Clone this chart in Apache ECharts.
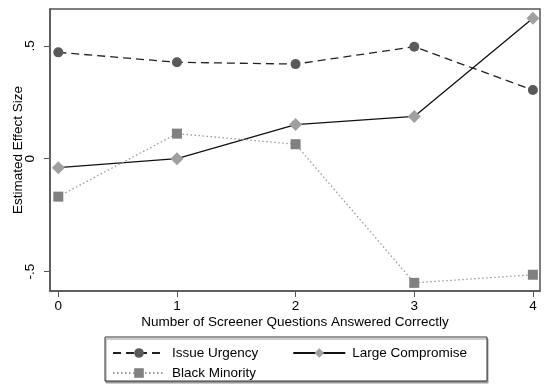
<!DOCTYPE html>
<html>
<head>
<meta charset="utf-8">
<script src="https://cdn.jsdelivr.net/npm/echarts@6/dist/echarts.min.js"></script>
<style>
  html, body { margin: 0; padding: 0; background: #fff; }
  #chart { width: 545px; height: 384px; }
</style>
</head>
<body>
<div id="chart"></div>
<script>
var xValues = [0, 1, 2, 3, 4];
var issueUrgency = [0.471, 0.427, 0.419, 0.496, 0.304];
var largeCompromise = [-0.04, 0.0, 0.151, 0.187, 0.622];
var blackMinority = [-0.168, 0.111, 0.064, -0.55, -0.514];
var yTicks = [-0.5, 0, 0.5];
var yTickLabels = ["-.5", "0", ".5"];

function pairs(ys) {
  return xValues.map(function (x, i) {
    return [x, ys[i]];
  });
}

var font = "Liberation Sans";
var fs = 13.5;
var chart = echarts.init(document.getElementById("chart"));

var option = {
  animation: false,
  backgroundColor: "#fff",
  textStyle: { fontFamily: font },
  grid: {
    left: 50,
    right: 5,
    top: 9,
    bottom: 93,
    show: true,
    borderColor: "#555",
    borderWidth: 1.5,
    backgroundColor: "#fff"
  },
  xAxis: {
    type: "value",
    min: -0.07,
    max: 4.06,
    name: "Number of Screener Questions Answered Correctly",
    nameLocation: "middle",
    nameGap: 24,
    nameMoveOverlap: false,
    nameTextStyle: { fontSize: fs, color: "#000", fontFamily: font },
    axisLine: { show: true, onZero: false, lineStyle: { color: "#555", width: 1.5 } },
    axisTick: {
      show: true,
      length: 6,
      customValues: xValues,
      lineStyle: { color: "#555", width: 1 }
    },
    axisLabel: {
      customValues: xValues,
      margin: 8,
      fontSize: fs,
      color: "#000",
      fontFamily: font
    },
    splitLine: { show: false }
  },
  yAxis: {
    type: "value",
    min: -0.586,
    max: 0.663,
    name: "Estimated Effect Size",
    nameLocation: "middle",
    nameGap: 25,
    nameMoveOverlap: false,
    nameTextStyle: { fontSize: fs, color: "#000", fontFamily: font },
    axisLine: { show: true, onZero: false, lineStyle: { color: "#555", width: 1.5 } },
    axisTick: {
      show: true,
      length: 6,
      customValues: yTicks,
      lineStyle: { color: "#555", width: 1 }
    },
    axisLabel: {
      customValues: yTicks,
      rotate: 90,
      margin: 13,
      fontSize: fs,
      color: "#000",
      fontFamily: font,
      formatter: function (v) {
        var i = yTicks.indexOf(v);
        return i >= 0 ? yTickLabels[i] : "";
      }
    },
    splitLine: { show: false }
  },
  graphic: [
    {
      type: "rect",
      shape: { x: 105, y: 337, width: 382, height: 44 },
      style: {
        fill: "#fff",
        stroke: "#333",
        lineWidth: 1,
        shadowColor: "#999",
        shadowOffsetX: 1,
        shadowOffsetY: 2,
        shadowBlur: 0
      },
      z: 0
    }
  ],
  legend: [
    {
      data: ["Issue Urgency", "Large Compromise"],
      left: 112,
      top: 346,
      padding: 0,
      itemWidth: 52,
      itemHeight: 12,
      itemGap: 34,
      textStyle: { fontSize: fs, color: "#000", fontFamily: font, padding: [0, 0, 0, 2] },
      z: 5
    },
    {
      data: ["Black Minority"],
      left: 112,
      top: 366,
      padding: 0,
      itemWidth: 52,
      itemHeight: 12,
      textStyle: { fontSize: fs, color: "#000", fontFamily: font, padding: [0, 0, 0, 2] },
      z: 5
    }
  ],
  series: [
    {
      name: "Issue Urgency",
      type: "line",
      data: pairs(issueUrgency),
      symbol: "circle",
      symbolSize: 10,
      itemStyle: { color: "#5a5a5a" },
      lineStyle: { color: "#222", width: 1.3, type: [8, 5] }
    },
    {
      name: "Large Compromise",
      type: "line",
      data: pairs(largeCompromise),
      symbol: "diamond",
      symbolSize: 13,
      itemStyle: { color: "#a0a0a0" },
      lineStyle: { color: "#111", width: 1.3, type: "solid" }
    },
    {
      name: "Black Minority",
      type: "line",
      data: pairs(blackMinority),
      symbol: "rect",
      symbolSize: 10,
      itemStyle: { color: "#808080" },
      lineStyle: { color: "#999", width: 1.3, type: [1.5, 2.5] }
    }
  ]
};

chart.setOption(option);
</script>
</body>
</html>
